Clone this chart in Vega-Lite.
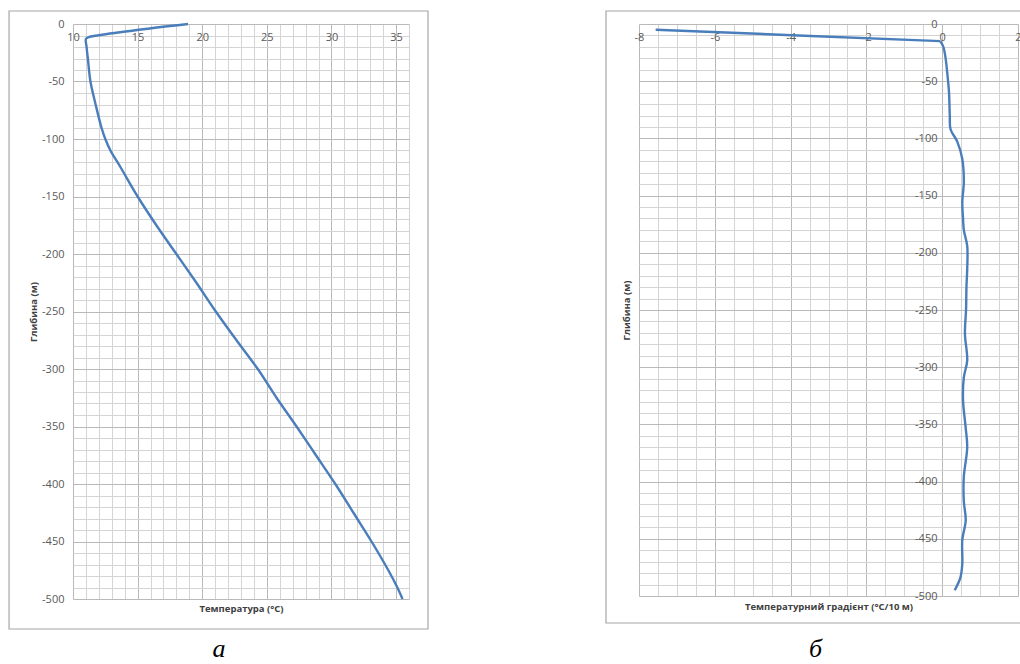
{
  "$schema": "https://vega.github.io/schema/vega-lite/v6.json",
  "padding": {"left": 8, "top": 10, "right": 0, "bottom": 0},
  "background": "white",
  "config": {
    "view": {"stroke": null},
    "font": "Open Sans",
    "axis": {"labelFont": "Open Sans", "labelFontSize": 11, "labelColor": "#595959", "titleFont": "Open Sans", "titleFontSize": 9.5, "titleFontWeight": "bold", "titleColor": "#404040", "labelOverlap": false, "labelFlush": false, "labelBound": false}
  },
  "datasets": {
    "temp": [
      {"d": 0, "t": 18.9}, {"d": -5, "t": 15.1}, {"d": -9.8, "t": 12.0}, {"d": -11.5, "t": 11.2}, {"d": -13, "t": 11.0},
      {"d": -20, "t": 11.05}, {"d": -30, "t": 11.15}, {"d": -50, "t": 11.35}, {"d": -70, "t": 11.75}, {"d": -90, "t": 12.2},
      {"d": -100, "t": 12.5}, {"d": -110, "t": 12.9}, {"d": -125, "t": 13.7}, {"d": -150, "t": 15.0}, {"d": -175, "t": 16.45},
      {"d": -200, "t": 18.0}, {"d": -225, "t": 19.55}, {"d": -250, "t": 21.05}, {"d": -275, "t": 22.65}, {"d": -300, "t": 24.3},
      {"d": -325, "t": 25.75}, {"d": -350, "t": 27.3}, {"d": -375, "t": 28.8}, {"d": -400, "t": 30.3}, {"d": -425, "t": 31.7},
      {"d": -450, "t": 33.1}, {"d": -475, "t": 34.4}, {"d": -490, "t": 35.1}, {"d": -500, "t": 35.5}
    ],
    "grad": [
      {"d": -5, "g": -7.56}, {"d": -10, "g": -3.8}, {"d": -15, "g": -0.05}, {"d": -20, "g": 0.03},
      {"d": -30, "g": 0.09}, {"d": -45, "g": 0.14},
      {"d": -60, "g": 0.18}, {"d": -80, "g": 0.2}, {"d": -92, "g": 0.22}, {"d": -103, "g": 0.4}, {"d": -118, "g": 0.53},
      {"d": -138, "g": 0.57}, {"d": -156, "g": 0.53}, {"d": -170, "g": 0.55}, {"d": -180, "g": 0.57}, {"d": -194, "g": 0.66},
      {"d": -214, "g": 0.66}, {"d": -230, "g": 0.64}, {"d": -249, "g": 0.63}, {"d": -271, "g": 0.6}, {"d": -294, "g": 0.66},
      {"d": -309, "g": 0.57}, {"d": -329, "g": 0.55}, {"d": -353, "g": 0.62}, {"d": -370, "g": 0.66}, {"d": -396, "g": 0.57},
      {"d": -417, "g": 0.57}, {"d": -434, "g": 0.62}, {"d": -451, "g": 0.53}, {"d": -472, "g": 0.53}, {"d": -484, "g": 0.48},
      {"d": -495, "g": 0.33}
    ]
  },
  "spacing": 176,
  "hconcat": [
    {
      "width": 336,
      "height": 575,
      "title": {"text": "а", "orient": "bottom", "font": "Liberation Serif", "fontStyle": "italic", "fontWeight": "normal", "fontSize": 26, "color": "#000000", "offset": 6, "dx": -22},
      "data": {"name": "temp"},
      "layer": [
        {
          "data": {"values": [{}]},
          "mark": {"type": "rect", "filled": false, "stroke": "#a6a6a6", "strokeWidth": 1.2, "clip": false},
          "encoding": {
            "x": {"datum": 5.05, "type": "quantitative", "scale": {"domain": [10, 36], "nice": false, "zero": false},
              "axis": {"orient": "top", "values": [11,12,13,14,16,17,18,19,21,22,23,24,26,27,28,29,31,32,33,34,36], "grid": true, "gridColor": "#d4d4d4", "labels": false, "ticks": false, "domain": false, "title": null}},
            "x2": {"datum": 37.47},
            "y": {"datum": 11.3, "type": "quantitative", "scale": {"domain": [-500, 0], "nice": false, "zero": false},
              "axis": {"orient": "right", "values": [-10,-20,-30,-40,-60,-70,-80,-90,-110,-120,-130,-140,-160,-170,-180,-190,-210,-220,-230,-240,-260,-270,-280,-290,-310,-320,-330,-340,-360,-370,-380,-390,-410,-420,-430,-440,-460,-470,-480,-490], "grid": true, "gridColor": "#d4d4d4", "labels": false, "ticks": false, "domain": false, "title": null}},
            "y2": {"datum": -526.1}
          }
        },
        {
          "mark": {"type": "line", "color": "#4a7ebb", "strokeWidth": 2.4, "interpolate": "catmull-rom"},
          "encoding": {
            "x": {"field": "t", "type": "quantitative",
              "axis": {"orient": "bottom", "offset": -575, "values": [10, 15, 20, 25, 30, 35], "grid": true, "gridColor": "#b9b9b9", "ticks": false, "domain": false, "labelPadding": 7, "labelExpr": "'' + datum.value", "title": "Температура (°C)", "titleY": 584, "titleBaseline": "middle"}},
            "y": {"field": "d", "type": "quantitative",
              "axis": {"orient": "left", "values": [0, -50, -100, -150, -200, -250, -300, -350, -400, -450, -500], "grid": true, "gridColor": "#b9b9b9", "ticks": false, "domain": false, "labelPadding": 9, "labelExpr": "'' + datum.value", "title": "Глибина (м)", "titleX": -40, "titleBaseline": "middle"}},
            "order": {"field": "d", "sort": "descending"}
          }
        }
      ],
      "resolve": {"axis": {"x": "independent", "y": "independent"}}
    },
    {
      "width": 379,
      "height": 572,
      "title": {"text": "б", "orient": "bottom", "font": "Liberation Serif", "fontStyle": "italic", "fontWeight": "normal", "fontSize": 26, "color": "#000000", "offset": 12, "dx": -13},
      "data": {"name": "grad"},
      "layer": [
        {
          "data": {"values": [{}]},
          "mark": {"type": "rect", "filled": false, "stroke": "#a6a6a6", "strokeWidth": 1.2, "clip": false},
          "encoding": {
            "x": {"datum": -8.871, "type": "quantitative", "scale": {"domain": [-8, 2], "nice": false, "zero": false},
              "axis": {"orient": "top", "values": [-7.5,-7,-6.5,-5.5,-5,-4.5,-3.5,-3,-2.5,-1.5,-1,-0.5,0.5,1,1.5], "grid": true, "gridColor": "#d4d4d4", "labels": false, "ticks": false, "domain": false, "title": null}},
            "x2": {"datum": 2.16},
            "y": {"datum": 11.36, "type": "quantitative", "scale": {"domain": [-500, 0], "nice": false, "zero": false},
              "axis": {"orient": "right", "values": [-10,-20,-30,-40,-60,-70,-80,-90,-110,-120,-130,-140,-160,-170,-180,-190,-210,-220,-230,-240,-260,-270,-280,-290,-310,-320,-330,-340,-360,-370,-380,-390,-410,-420,-430,-440,-460,-470,-480,-490], "grid": true, "gridColor": "#d4d4d4", "labels": false, "ticks": false, "domain": false, "title": null}},
            "y2": {"datum": -523.6}
          }
        },
        {
          "transform": [{"filter": "datum.d >= -15"}],
          "mark": {"type": "line", "color": "#4a7ebb", "strokeWidth": 2.4},
          "encoding": {
            "x": {"field": "g", "type": "quantitative", "axis": null},
            "y": {"field": "d", "type": "quantitative", "axis": null},
            "order": {"field": "d", "sort": "descending"}
          }
        },
        {
          "transform": [{"filter": "datum.d <= -15"}],
          "mark": {"type": "line", "color": "#4a7ebb", "strokeWidth": 2.4, "interpolate": "catmull-rom"},
          "encoding": {
            "x": {"field": "g", "type": "quantitative",
              "axis": {"orient": "bottom", "offset": -572, "values": [-8, -6, -4, -2, 0, 2], "grid": true, "gridColor": "#b9b9b9", "ticks": false, "domain": false, "labelPadding": 7, "labelExpr": "'' + datum.value", "title": "Температурний градієнт (°C/10 м)", "titleY": 582, "titleBaseline": "middle"}},
            "y": {"field": "d", "type": "quantitative",
              "axis": {"orient": "left", "offset": -303, "values": [0, -50, -100, -150, -200, -250, -300, -350, -400, -450, -500], "grid": true, "gridColor": "#b9b9b9", "ticks": false, "domain": false, "labelPadding": 5, "labelExpr": "'' + datum.value", "title": "Глибина (м)", "titleX": -316, "titleBaseline": "middle"}},
            "order": {"field": "d", "sort": "descending"}
          }
        }
      ],
      "resolve": {"axis": {"x": "independent", "y": "independent"}}
    }
  ]
}
